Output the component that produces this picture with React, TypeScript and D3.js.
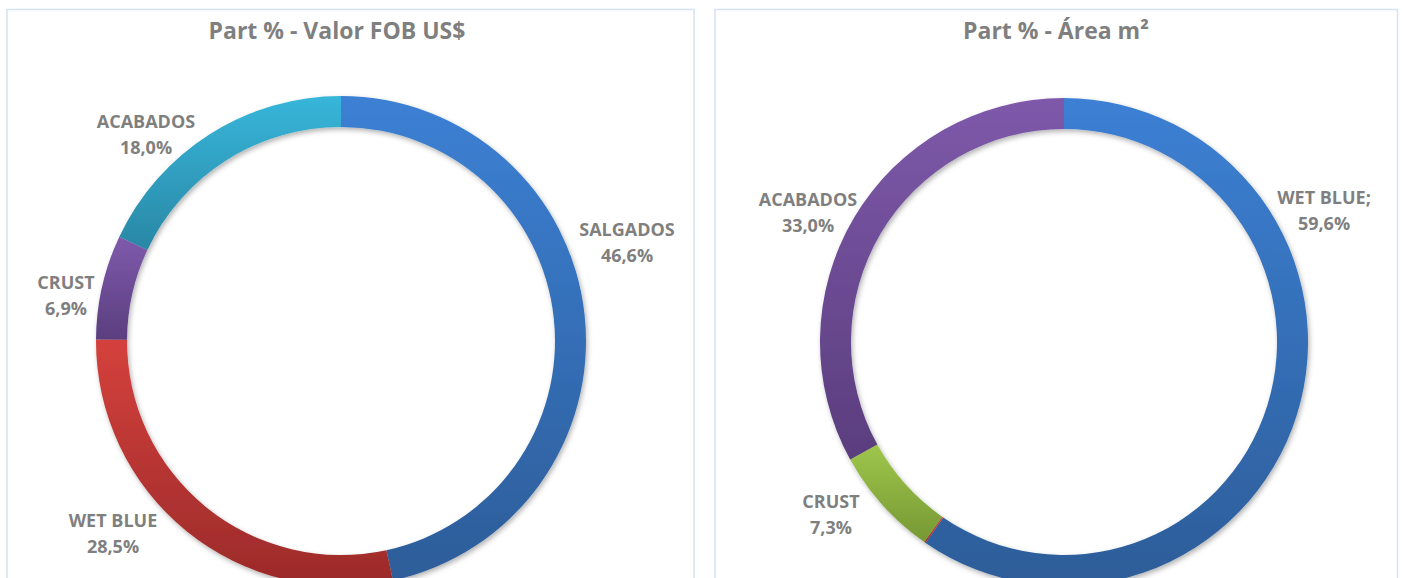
import React from "react";
import * as d3 from "d3";

// ---- data ----
const leftTitle = "Part % - Valor FOB US$";
const leftCategories = ["SALGADOS", "WET BLUE", "CRUST", "ACABADOS"];
const leftValues = [46.6, 28.5, 6.9, 18.0];
const leftLabelSuffix = ["", "", "", ""];
const leftLabelShown = [true, true, true, true];

const rightTitle = "Part % - Área m²";
const rightCategories = ["WET BLUE", "SALGADOS", "CRUST", "ACABADOS"];
const rightValues = [59.6, 0.1, 7.3, 33.0];
const rightLabelSuffix = [";", "", "", ""];
const rightLabelShown = [true, false, true, true];

// ---- styles / layout ----
type Grad = [string, string];
const leftColors: Record<string, Grad> = {
  SALGADOS: ["#3c80d4", "#2d5d99"],
  "WET BLUE": ["#d5413c", "#9b2a2a"],
  CRUST: ["#7f5aac", "#5b3e7f"],
  ACABADOS: ["#37b6da", "#2a87a5"],
};
const rightColors: Record<string, Grad> = {
  "WET BLUE": ["#3c80d4", "#2d5d99"],
  SALGADOS: ["#d5413c", "#9b2a2a"],
  CRUST: ["#9ec64b", "#779834"],
  ACABADOS: ["#7e59aa", "#5a3d7d"],
};
// label anchor (center x, first-line baseline y) per slice
const leftLabelPos: [number, number][] = [
  [627, 236],
  [113, 527],
  [66, 289],
  [146, 128],
];
const rightLabelPos: [number, number][] = [
  [1324, 204],
  [0, 0],
  [831, 508],
  [808, 206],
];

const fmt = (v: number) => d3.format(".1f")(v).replace(".", ",") + "%";
const textColor = "#7f7f7f";
const fontFamily = "'Open Sans', 'DejaVu Sans', sans-serif";

interface DonutProps {
  id: string;
  cx: number;
  cy: number;
  outerR: number;
  innerR: number;
  categories: string[];
  values: number[];
  colors: Record<string, Grad>;
  labelPos: [number, number][];
  labelSuffix: string[];
  labelShown: boolean[];
}

function Donut(p: DonutProps) {
  const pie = d3.pie<number>().sort(null).value((d) => d);
  const arcs = pie(p.values);
  const arc = d3
    .arc<d3.PieArcDatum<number>>()
    .innerRadius(p.innerR)
    .outerRadius(p.outerR);
  return (
    <g>
      <defs>
        {p.categories.map((c, i) => (
          <linearGradient key={c} id={`${p.id}-g${i}`} x1="0" y1="0" x2="0" y2="1">
            <stop offset="0" stopColor={p.colors[c][0]} />
            <stop offset="1" stopColor={p.colors[c][1]} />
          </linearGradient>
        ))}
      </defs>
      <g transform={`translate(${p.cx},${p.cy})`} filter="url(#shadow)">
        {arcs.map((a, i) => (
          <path key={i} d={arc(a) || ""} fill={`url(#${p.id}-g${i})`} />
        ))}
      </g>
      {arcs.map((a, i) =>
        p.labelShown[i] ? (
          <text
            key={"l" + i}
            x={p.labelPos[i][0]}
            y={p.labelPos[i][1]}
            textAnchor="middle"
            fontFamily={fontFamily}
            fontWeight={700}
            fontSize={18}
            fill={textColor}
          >
            <tspan x={p.labelPos[i][0]}>{p.categories[i] + p.labelSuffix[i]}</tspan>
            <tspan x={p.labelPos[i][0]} dy={25.5}>
              {fmt(p.values[i])}
            </tspan>
          </text>
        ) : null
      )}
    </g>
  );
}

export default function App() {
  const W = 1402;
  const H = 578;
  return (
    <svg
      width={W}
      height={H}
      style={{ position: "absolute", left: 0, top: 0, background: "#fff" }}
    >
      <defs>
        <filter id="shadow" x="-10%" y="-10%" width="120%" height="120%">
          <feDropShadow dx="1.5" dy="2.5" stdDeviation="2.5" floodColor="#000" floodOpacity="0.3" />
        </filter>
      </defs>
      <rect x={0} y={0} width={W} height={H} fill="#fff" />
      <rect x={7} y={9.5} width={687} height={620} fill="#fff" stroke="#d5e2f4" strokeWidth={1.5} />
      <rect x={715} y={9.5} width={682.5} height={620} fill="#fff" stroke="#d5e2f4" strokeWidth={1.5} />

      <text x={337} y={39} textAnchor="middle" fontFamily={fontFamily} fontWeight={700} fontSize={23} fill={textColor}>
        {leftTitle}
      </text>
      <text x={1056} y={39} textAnchor="middle" fontFamily={fontFamily} fontWeight={700} fontSize={23} fill={textColor}>
        {rightTitle}
      </text>

      <Donut
        id="left"
        cx={341}
        cy={341}
        outerR={245}
        innerR={214}
        categories={leftCategories}
        values={leftValues}
        colors={leftColors}
        labelPos={leftLabelPos}
        labelSuffix={leftLabelSuffix}
        labelShown={leftLabelShown}
      />
      <Donut
        id="right"
        cx={1064}
        cy={342}
        outerR={244}
        innerR={213}
        categories={rightCategories}
        values={rightValues}
        colors={rightColors}
        labelPos={rightLabelPos}
        labelSuffix={rightLabelSuffix}
        labelShown={rightLabelShown}
      />
    </svg>
  );
}
